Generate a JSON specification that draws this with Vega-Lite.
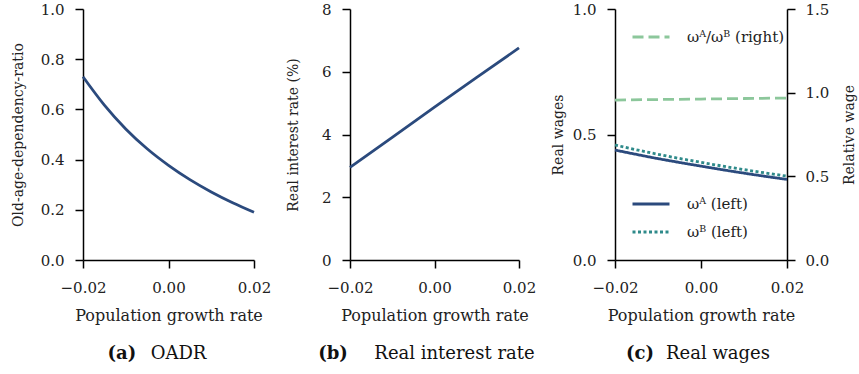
{
  "$schema": "https://vega.github.io/schema/vega-lite/v6.json",
  "padding": {"left": 11, "top": 2, "right": 1, "bottom": 2},
  "spacing": 15,
  "datasets": {
    "oadr": [
      {"g": -0.02, "v": 0.73}, {"g": -0.015, "v": 0.617}, {"g": -0.01, "v": 0.522},
      {"g": -0.005, "v": 0.443}, {"g": 0.0, "v": 0.377}, {"g": 0.005, "v": 0.32},
      {"g": 0.01, "v": 0.271}, {"g": 0.015, "v": 0.228}, {"g": 0.02, "v": 0.19}
    ],
    "rate": [
      {"g": -0.02, "v": 2.95}, {"g": -0.01, "v": 3.91}, {"g": 0.0, "v": 4.87},
      {"g": 0.01, "v": 5.82}, {"g": 0.02, "v": 6.76}
    ],
    "wages": [
      {"g": -0.02, "v": 0.438, "s": "ωᴬ (left)"}, {"g": -0.01, "v": 0.404, "s": "ωᴬ (left)"},
      {"g": 0.0, "v": 0.374, "s": "ωᴬ (left)"}, {"g": 0.01, "v": 0.346, "s": "ωᴬ (left)"},
      {"g": 0.02, "v": 0.321, "s": "ωᴬ (left)"},
      {"g": -0.02, "v": 0.458, "s": "ωᴮ (left)"}, {"g": -0.01, "v": 0.421, "s": "ωᴮ (left)"},
      {"g": 0.0, "v": 0.389, "s": "ωᴮ (left)"}, {"g": 0.01, "v": 0.36, "s": "ωᴮ (left)"},
      {"g": 0.02, "v": 0.334, "s": "ωᴮ (left)"}
    ],
    "rel": [
      {"g": -0.02, "v": 0.956, "r": "ωᴬ/ωᴮ (right)"}, {"g": -0.01, "v": 0.959, "r": "ωᴬ/ωᴮ (right)"},
      {"g": 0.0, "v": 0.962, "r": "ωᴬ/ωᴮ (right)"}, {"g": 0.01, "v": 0.965, "r": "ωᴬ/ωᴮ (right)"},
      {"g": 0.02, "v": 0.968, "r": "ωᴬ/ωᴮ (right)"}
    ]
  },
  "hconcat": [
    {
      "title": {"text": "(a)", "orient": "bottom", "anchor": "middle", "fontWeight": "bold", "fontSize": 18, "dx": -19, "offset": -18},
      "vconcat": [
        {
          "width": 171, "height": 251,
          "title": {"text": "OADR", "orient": "bottom", "anchor": "middle", "frame": "group", "fontWeight": "normal", "fontSize": 18, "dx": 10, "offset": 22},
          "data": {"name": "oadr"},
          "mark": {"type": "line", "color": "#2b4a7d", "strokeWidth": 2.8, "interpolate": "monotone"},
          "encoding": {
            "x": {"field": "g", "type": "quantitative", "scale": {"domain": [-0.02, 0.02]},
                  "axis": {"values": [-0.02, 0, 0.02], "format": ".2f", "title": "Population growth rate"}},
            "y": {"field": "v", "type": "quantitative", "scale": {"domain": [0, 1]},
                  "axis": {"values": [0, 0.2, 0.4, 0.6, 0.8, 1.0], "format": ".1f", "title": "Old-age-dependency-ratio", "titlePadding": 15}}
          }
        }
      ]
    },
    {
      "title": {"text": "(b)", "orient": "bottom", "anchor": "middle", "fontWeight": "bold", "fontSize": 18, "dx": -78, "offset": -18},
      "vconcat": [
        {
          "width": 169, "height": 251,
          "title": {"text": "Real interest rate", "orient": "bottom", "anchor": "middle", "frame": "group", "fontWeight": "normal", "fontSize": 18, "dx": 20, "offset": 22},
          "data": {"name": "rate"},
          "mark": {"type": "line", "color": "#2b4a7d", "strokeWidth": 2.8},
          "encoding": {
            "x": {"field": "g", "type": "quantitative", "scale": {"domain": [-0.02, 0.02]},
                  "axis": {"values": [-0.02, 0, 0.02], "format": ".2f", "title": "Population growth rate"}},
            "y": {"field": "v", "type": "quantitative", "scale": {"domain": [0, 8]},
                  "axis": {"values": [0, 2, 4, 6, 8], "format": "d", "title": "Real interest rate (%)", "titlePadding": 21}}
          }
        }
      ]
    },
    {
      "title": {"text": "(c)", "orient": "bottom", "anchor": "middle", "fontWeight": "bold", "fontSize": 18, "dx": -64, "offset": -18},
      "vconcat": [
        {
          "width": 172, "height": 251,
          "title": {"text": "Real wages", "orient": "bottom", "anchor": "middle", "frame": "group", "fontWeight": "normal", "fontSize": 18, "dx": 17, "offset": 22},
          "layer": [
            {
              "data": {"name": "wages"},
              "mark": {"type": "line", "strokeWidth": 2.8, "interpolate": "monotone"},
              "encoding": {
                "x": {"field": "g", "type": "quantitative", "scale": {"domain": [-0.02, 0.02]},
                      "axis": {"values": [-0.02, 0, 0.02], "format": ".2f", "title": "Population growth rate"}},
                "y": {"field": "v", "type": "quantitative", "scale": {"domain": [0, 1]},
                      "axis": {"values": [0, 0.5, 1.0], "format": ".1f", "title": "Real wages", "titlePadding": 7}},
                "color": {"field": "s", "type": "nominal",
                          "scale": {"domain": ["ωᴬ (left)", "ωᴮ (left)"], "range": ["#2b4a7d", "#2e8a8a"]},
                          "legend": {"orient": "none", "legendX": 16, "legendY": 175, "title": null}},
                "strokeDash": {"field": "s", "type": "nominal",
                          "scale": {"domain": ["ωᴬ (left)", "ωᴮ (left)"], "range": [[1, 0], [3, 2.5]]},
                          "legend": {"orient": "none", "legendX": 16, "legendY": 175, "title": null}}
              }
            },
            {
              "data": {"name": "rel"},
              "mark": {"type": "line", "strokeWidth": 2.8},
              "encoding": {
                "x": {"field": "g", "type": "quantitative"},
                "y": {"field": "v", "type": "quantitative", "scale": {"domain": [0, 1.5]},
                      "axis": {"orient": "right", "values": [0, 0.5, 1.0, 1.5], "format": ".1f", "title": "Relative wage",
                               "titleAngle": 270, "labelPadding": 10, "titlePadding": 28}},
                "color": {"field": "r", "type": "nominal",
                          "scale": {"range": ["#8cc79b"]},
                          "legend": {"orient": "none", "legendX": 16, "legendY": 8, "title": null}},
                "strokeDash": {"field": "r", "type": "nominal",
                          "scale": {"range": [[11, 5]]},
                          "legend": {"orient": "none", "legendX": 16, "legendY": 8, "title": null}}
              }
            }
          ],
          "resolve": {"scale": {"y": "independent", "color": "independent", "strokeDash": "independent"}}
        }
      ]
    }
  ],
  "config": {
    "font": "DejaVu Serif",
    "view": {"stroke": null},
    "title": {"color": "#111"},
    "axis": {
      "grid": false, "domainColor": "#000", "domainWidth": 1.5, "tickColor": "#000", "tickWidth": 1.5,
      "tickSize": 8, "labelFontSize": 15, "titleFontSize": 14, "labelColor": "#222", "titleColor": "#222",
      "titleFontWeight": "normal", "labelPadding": 11, "labelFlush": false
    },
    "axisX": {"titleFontSize": 16, "titlePadding": 12, "labelPadding": 12},
    "legend": {
      "symbolType": "stroke", "symbolSize": 1369, "symbolStrokeWidth": 3, "labelFontSize": 15,
      "labelColor": "#222", "rowPadding": -10, "labelOffset": 16
    }
  }
}
